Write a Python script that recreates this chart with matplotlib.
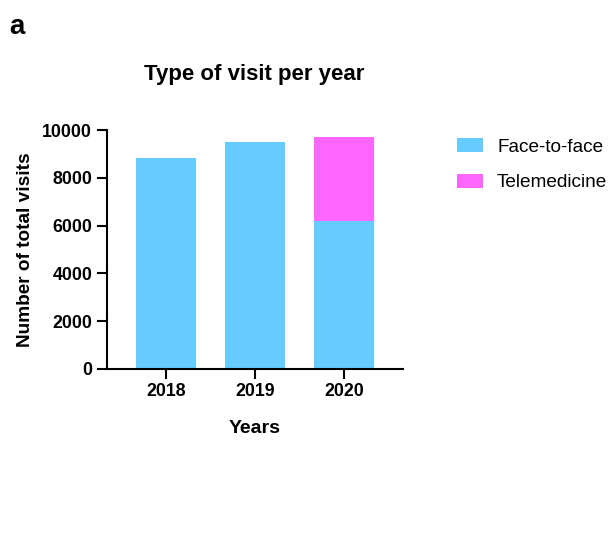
import matplotlib.pyplot as plt
import numpy as np

plt.rcParams["font.family"] = ["Liberation Sans", "DejaVu Sans"]

years = ["2018", "2019", "2020"]
face_to_face = [8840, 9510, 6200]
telemedicine = [0, 0, 3520]

fig = plt.figure(figsize=(6.1, 5.4), dpi=100)
ax = fig.add_axes([0.175, 0.317, 0.485, 0.442])

x = np.arange(len(years))
ax.bar(x, face_to_face, width=0.674, color="#66CCFF", label="Face-to-face")
ax.bar(x, telemedicine, width=0.674, bottom=face_to_face, color="#FF66FF", label="Telemedicine")

ax.set_xlim(-0.667, 2.66)
ax.set_ylim(0, 10000)
ax.set_yticks(np.arange(0, 10001, 2000))
ax.set_xticks(x)
ax.set_xticklabels(years)

for side in ["top", "right"]:
    ax.spines[side].set_visible(False)
for side in ["left", "bottom"]:
    ax.spines[side].set_linewidth(1.5)

ax.tick_params(axis="both", width=1.5, length=7, labelsize=12.8)
for lbl in ax.get_xticklabels() + ax.get_yticklabels():
    lbl.set_fontweight("bold")

ax.set_xlabel("Years", fontsize=14, fontweight="bold", labelpad=14)
ax.set_ylabel("Number of total visits", fontsize=13.7, fontweight="bold", labelpad=6)
ax.set_title("Type of visit per year", fontsize=16, fontweight="bold", pad=36)

ax.legend(loc="upper left", bbox_to_anchor=(0.749, 0.744), bbox_transform=fig.transFigure,
          frameon=False, fontsize=13.7, borderpad=0, borderaxespad=0,
          handlelength=1.37, handleheight=0.74, labelspacing=0.95, handletextpad=0.74)

fig.text(0.015, 0.975, "a", fontsize=20, fontweight="bold", va="top")

fig.savefig("out.png", dpi=100)
